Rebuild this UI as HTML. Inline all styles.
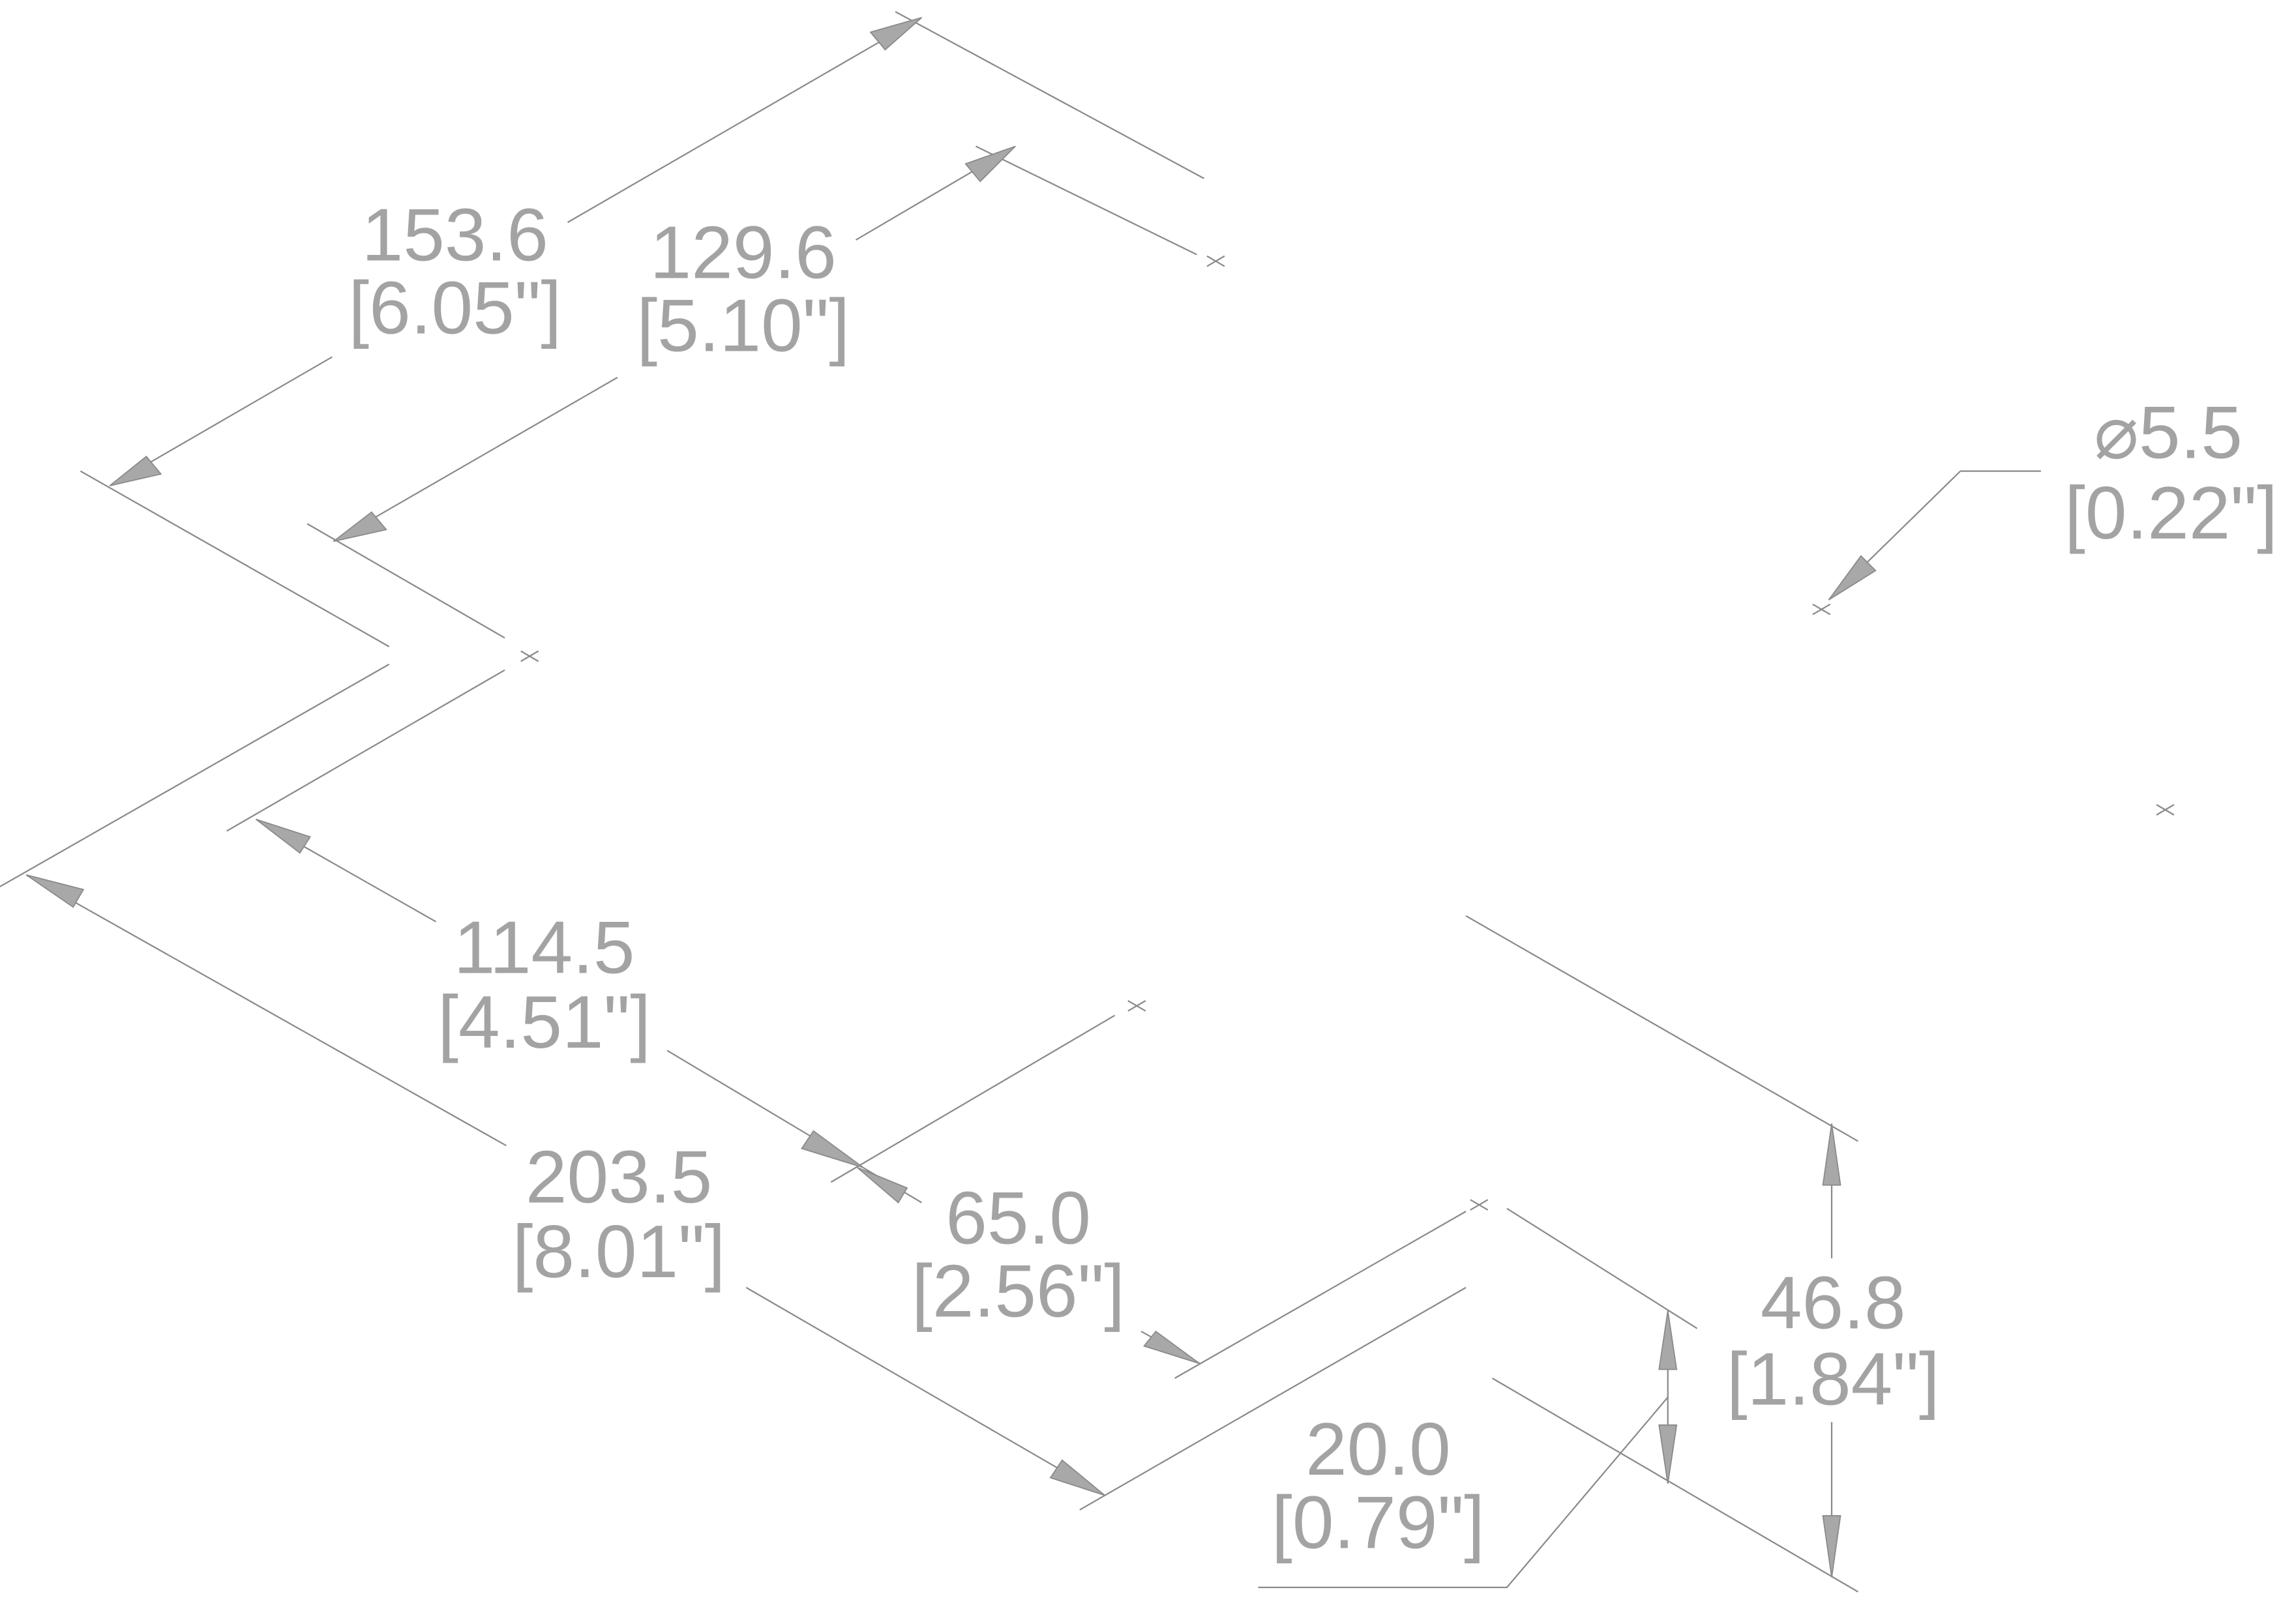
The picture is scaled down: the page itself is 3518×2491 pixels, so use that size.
<!DOCTYPE html>
<html><head><meta charset="utf-8"><style>
html,body{margin:0;padding:0;background:#fff;}
svg{display:block;}
text{font-family:"Liberation Sans",sans-serif;font-size:51px;fill:#a3a3a3;text-anchor:middle;}
</style></head><body>
<svg width="3518" height="2491" viewBox="0 0 1568 1110" preserveAspectRatio="none" xmlns="http://www.w3.org/2000/svg">
<g stroke="#8a8a8a" stroke-width="1" fill="none">
<line x1="612" y1="8" x2="823" y2="122"/>
<line x1="667" y1="100" x2="818" y2="174"/>
<line x1="630" y1="12" x2="388" y2="152"/>
<line x1="227" y1="244" x2="75" y2="332"/>
<line x1="694" y1="100" x2="585" y2="164"/>
<line x1="422" y1="258" x2="228" y2="370"/>
<line x1="55" y1="322" x2="266" y2="442"/>
<line x1="210" y1="358" x2="345" y2="436"/>
<line x1="266" y1="454" x2="0" y2="606"/>
<line x1="345" y1="458" x2="155" y2="568"/>
<line x1="175" y1="560" x2="298" y2="630"/>
<line x1="456" y1="718" x2="630" y2="822"/>
<line x1="18" y1="598" x2="346" y2="783"/>
<line x1="510" y1="880" x2="755" y2="1022"/>
<line x1="568" y1="808" x2="762" y2="694"/>
<line x1="780" y1="910" x2="820" y2="932"/>
<line x1="803" y1="942" x2="1002" y2="828"/>
<line x1="738" y1="1032" x2="1002" y2="880"/>
<line x1="1002" y1="626" x2="1270" y2="780"/>
<line x1="1030" y1="826" x2="1160" y2="908"/>
<line x1="1020" y1="942" x2="1270" y2="1088"/>
<line x1="1252" y1="768" x2="1252" y2="860"/>
<line x1="1252" y1="972" x2="1252" y2="1078"/>
<line x1="1140" y1="896" x2="1140" y2="1014"/>
<polyline points="1140,955 1030,1085 860,1085"/>
<polyline points="1395,322 1340,322 1250,410"/>
<path d="M825,175 l12,7 M825,182 l12,-7 M356,445 l12,7 M356,452 l12,-7 M771,684 l12,7 M771,691 l12,-7 M1005,820 l12,7 M1005,827 l12,-7 M1239,413 l12,7 M1239,420 l12,-7 M1474,550 l12,7 M1474,557 l12,-7"/>
</g>
<g fill="#a8a8a8" stroke="#8a8a8a" stroke-width="0.8">
<polygon points="630,12 595,22 605,34"/>
<polygon points="75,332 100,312 110,324"/>
<polygon points="694,100 660,112 670,124"/>
<polygon points="228,370 254,350 264,362"/>
<polygon points="175,560 212,572 205,583"/>
<polygon points="590,798 548,785 556,773"/>
<polygon points="18,598 57,608 50,620"/>
<polygon points="755,1022 718,1010 726,998"/>
<polygon points="586,798 620,812 614,822"/>
<polygon points="820,932 782,920 790,910"/>
<polygon points="1252,768 1246,810 1258,810"/>
<polygon points="1252,1078 1246,1036 1258,1036"/>
<polygon points="1140,896 1134,936 1146,936"/>
<polygon points="1140,1014 1134,974 1146,974"/>
<polygon points="1250,410 1272,380 1282,390"/>
</g>
<text x="311" y="178">153.6</text><text x="311" y="228">[6.05"]</text>
<text x="508" y="190">129.6</text><text x="508" y="240">[5.10"]</text>
<text x="1482" y="313">⌀5.5</text><text x="1484" y="368">[0.22"]</text>
<text x="372" y="665">114.5</text><text x="372" y="716">[4.51"]</text>
<text x="423" y="822">203.5</text><text x="423" y="873">[8.01"]</text>
<text x="696" y="850">65.0</text><text x="696" y="900">[2.56"]</text>
<text x="1253" y="908">46.8</text><text x="1253" y="960">[1.84"]</text>
<text x="942" y="1008">20.0</text><text x="942" y="1058">[0.79"]</text>
</svg>
</body></html>
